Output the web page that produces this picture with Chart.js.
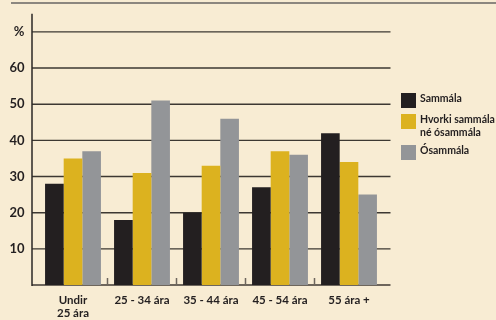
<!DOCTYPE html>
<html><head><meta charset="utf-8">
<script src="https://cdn.jsdelivr.net/npm/chart.js@4"></script>
<style>
html,body{margin:0;padding:0;background:#f8ecd3;}
#wrap{position:relative;width:496px;height:320px;overflow:hidden;background:#f8ecd3;}
#topline{position:absolute;left:11px;top:2px;width:485px;height:2px;background:#8c877f;}
canvas{position:absolute;left:0;top:0;}
#legend{position:absolute;left:401px;top:93px;font-family:Lato,sans-serif;font-weight:bold;font-size:10.5px;color:#231f20;}
.item{display:flex;align-items:flex-start;margin-bottom:6px;}
.sw{width:15px;height:15px;flex:none;margin-right:4px;}
.tx{line-height:13px;margin-top:-1px;}
</style></head>
<body><div id="wrap"><div id="topline"></div><canvas id="c" width="496" height="320"></canvas><div id="legend"></div></div>
<script>
const categories = [['Undir','25 ára'],'25 - 34 ára','35 - 44 ára','45 - 54 ára','55 ára +'];
const seriesNames = ['Sammála',['Hvorki sammála','né ósammála'],'Ósammála'];
const sammala = [28,18,20,27,42];
const hvorki = [35,31,33,37,34];
const osammala = [37,51,46,36,25];
const yTicks = [10,20,30,40,50,60,70];
const yTickLabels = ['10','20','30','40','50','60','%'];
const colors = ['#231f20','#dcb21f','#939598'];

const gridPlugin = {
  id:'grid',
  beforeDatasetsDraw(chart){
    const {ctx, chartArea, scales:{x,y}} = chart;
    const left = chartArea.left - 6.5, right = chartArea.right + 7;
    ctx.save();
    ctx.strokeStyle = '#3d3832'; ctx.lineWidth = 1.4;
    yTicks.forEach(v=>{
      const py = y.getPixelForValue(v);
      ctx.beginPath(); ctx.moveTo(left, py); ctx.lineTo(right, py); ctx.stroke();
    });
    const by = y.getPixelForValue(0);
    ctx.strokeStyle = '#6e665c'; ctx.lineWidth = 2;
    ctx.beginPath(); ctx.moveTo(left, by); ctx.lineTo(right, by); ctx.stroke();
    ctx.lineWidth = 1.5;
    for(let i=0;i<categories.length-1;i++){
      const px = (x.getPixelForValue(i)+x.getPixelForValue(i+1))/2;
      ctx.beginPath(); ctx.moveTo(px, by-7); ctx.lineTo(px, by); ctx.stroke();
    }
    ctx.strokeStyle = '#2b2724'; ctx.lineWidth = 1.5;
    ctx.beginPath(); ctx.moveTo(left, chartArea.top); ctx.lineTo(left, by+1); ctx.stroke();
    ctx.restore();
  }
};

const values = [sammala, hvorki, osammala];
const chart = new Chart(document.getElementById('c'), {
  type:'bar',
  data:{
    labels:categories,
    datasets: values.map((d,i)=>({
      label: [].concat(seriesNames[i]).join(' '),
      data: d,
      backgroundColor: colors[i],
      borderWidth: 0,
      categoryPercentage: 0.81,
      barPercentage: 1
    }))
  },
  options:{
    responsive:false, animation:false, devicePixelRatio:1,
    layout:{padding:{left:0,right:112.5,top:6,bottom:0}},
    plugins:{legend:{display:false},tooltip:{enabled:false}},
    scales:{
      x:{
        grid:{display:false}, border:{display:false},
        ticks:{font:{family:'Lato',weight:'bold',size:11.5,lineHeight:1.2},color:'#231f20',padding:0,maxRotation:0,autoSkip:false},
        afterFit(s){s.height=35;}
      },
      y:{
        min:0,max:75,
        grid:{display:false}, border:{display:false},
        afterBuildTicks(s){s.ticks = yTicks.map(v=>({value:v}));},
        ticks:{font:{family:'Lato',weight:'bold',size:13},color:'#231f20',padding:6,
          callback:(v)=>{const k=yTicks.indexOf(v);return k>=0?yTickLabels[k]:'';}},
        afterFit(s){s.width=38.5;}
      }
    }
  },
  plugins:[gridPlugin]
});

const lg = document.getElementById('legend');
seriesNames.forEach((n,i)=>{
  const it = document.createElement('div'); it.className='item';
  const sw = document.createElement('div'); sw.className='sw'; sw.style.background=colors[i];
  const tx = document.createElement('div'); tx.className='tx';
  [].concat(n).forEach((line,j)=>{ if(j) tx.appendChild(document.createElement('br')); tx.appendChild(document.createTextNode(line)); });
  it.appendChild(sw); it.appendChild(tx); lg.appendChild(it);
});
</script></body></html>
